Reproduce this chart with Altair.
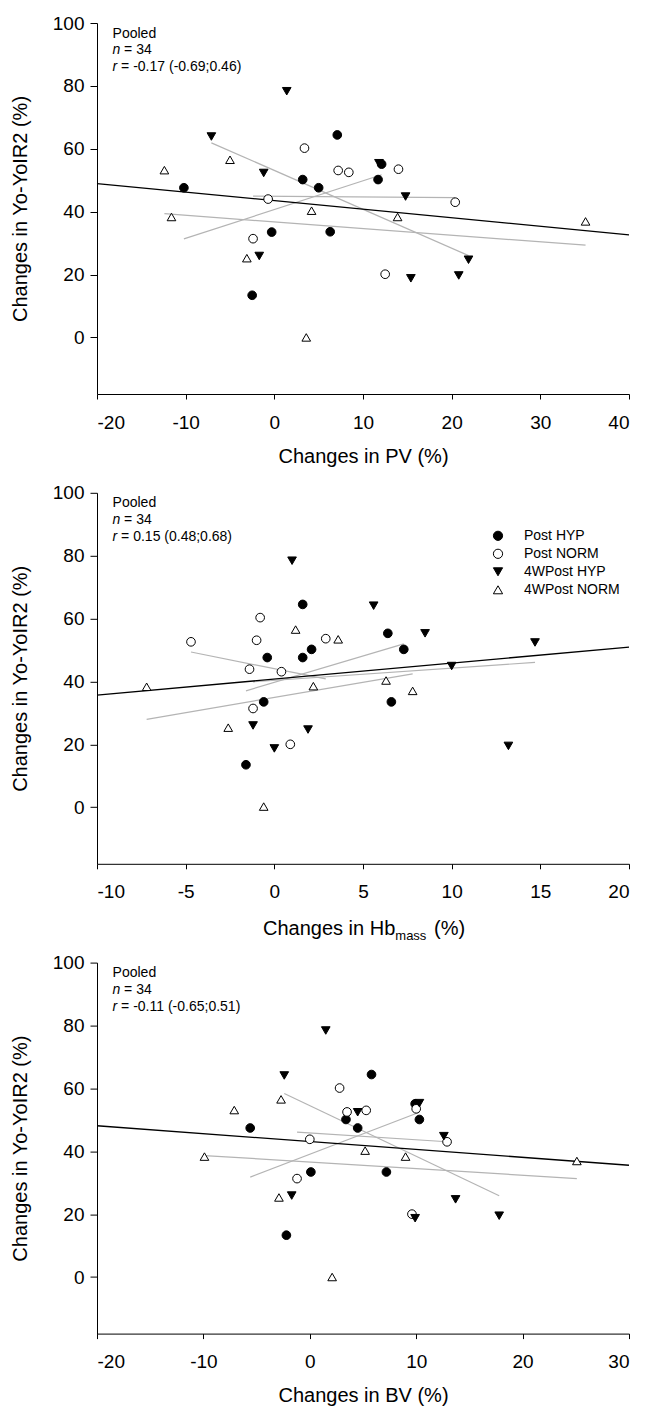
import altair as alt
import pandas as pd

FONT = "Liberation Sans"
GROUPS = ["Post HYP", "Post NORM", "4WPost HYP", "4WPost NORM"]
SHAPES = ["circle", "circle", "triangle-down", "triangle-up"]
FILLS = ["black", "white", "black", "white"]
STROKES = ["black", "black", "black", "black"]

# ---- Panel 1: Changes in PV (%) ----
pv_post_hyp_x = [-10.2, 7.1, 3.2, 5.0, 11.7, -0.3, 6.3, -2.5, 12.1]
pv_post_hyp_y = [47.6, 64.4, 50.2, 47.6, 50.2, 33.5, 33.6, 13.4, 55.1]
pv_post_norm_x = [3.4, 7.2, 8.4, 14.0, -0.7, -2.4, 12.5, 20.4]
pv_post_norm_y = [60.2, 53.1, 52.5, 53.5, 44.0, 31.4, 20.1, 43.0]
pv_4w_hyp_x = [1.4, -7.1, -1.2, -1.7, 11.8, 14.8, 21.9, 15.4, 20.8]
pv_4w_hyp_y = [78.3, 63.9, 52.3, 25.9, 55.4, 44.8, 24.7, 18.8, 19.7]
pv_4w_norm_x = [-12.4, -5.0, -11.6, 4.2, -3.1, 3.6, 13.9, 35.1]
pv_4w_norm_y = [53.2, 56.5, 38.3, 40.3, 25.2, 0.0, 38.3, 36.9]

# ---- Panel 2: Changes in Hb mass (%) ----
hb_post_hyp_x = [1.6, -0.4, 1.6, 2.1, -0.6, -1.6, 6.4, 7.3, 6.6]
hb_post_hyp_y = [64.5, 47.6, 47.6, 50.2, 33.5, 13.5, 55.3, 50.2, 33.5]
hb_post_norm_x = [-4.7, -0.8, -1.0, 2.9, -1.4, 0.4, -1.2, 0.9]
hb_post_norm_y = [52.6, 60.3, 53.1, 53.6, 43.9, 43.1, 31.4, 20.0]
hb_4w_hyp_x = [1.0, 5.6, 8.5, 14.7, 10.0, 13.2, -1.2, 1.9, 0.0]
hb_4w_hyp_y = [78.4, 64.1, 55.3, 52.4, 44.9, 19.5, 26.0, 24.7, 18.7]
hb_4w_norm_x = [-7.2, 1.2, 3.6, 2.2, -2.6, -0.6, 6.3, 7.8]
hb_4w_norm_y = [38.3, 56.5, 53.4, 38.5, 25.3, 0.2, 40.3, 37.0]

# ---- Panel 3: Changes in BV (%) ----
bv_post_hyp_x = [5.8, -5.6, 3.4, 4.5, 0.1, 7.2, -2.2, 9.9, 10.3]
bv_post_hyp_y = [64.4, 47.4, 50.1, 47.4, 33.4, 33.4, 13.3, 55.1, 50.1]
bv_post_norm_x = [2.8, 3.5, 5.3, 0.0, -1.2, 10.0, 12.9, 9.6]
bv_post_norm_y = [60.1, 52.5, 53.0, 43.8, 31.3, 53.5, 43.0, 20.0]
bv_4w_hyp_x = [1.5, -2.4, 4.5, -1.7, 10.3, 12.6, 13.7, 9.9, 17.8]
bv_4w_hyp_y = [78.4, 64.1, 52.4, 25.9, 55.3, 44.8, 24.7, 18.7, 19.5]
bv_4w_norm_x = [-9.9, -7.1, -2.7, 5.2, -2.9, 2.1, 9.0, 25.1]
bv_4w_norm_y = [38.3, 53.1, 56.5, 40.2, 25.3, 0.0, 38.3, 36.9]

# axis settings
pv_domain = [-20, 40]
pv_ticks = [-20, -10, 0, 10, 20, 30, 40]
hb_domain = [-10, 20]
hb_ticks = [-10, -5, 0, 5, 10, 15, 20]
bv_domain = [-20, 30]
bv_ticks = [-20, -10, 0, 10, 20, 30]
y_domain = [-18, 100]
y_ticks = [0, 20, 40, 60, 80, 100]

# annotation texts
r_texts = ["= -0.17 (-0.69;0.46)", "= 0.15 (0.48;0.68)", "= -0.11 (-0.65;0.51)"]
n_text = "= 34"
hb_title_parts = ["Changes in Hb", "mass", "(%)"]

W, H = 532, 371


def panel_df(xs_list, ys_list):
    rows = []
    for g, xs, ys in zip(GROUPS, xs_list, ys_list):
        for x, y in zip(xs, ys):
            rows.append({"x": x, "y": y, "group": g})
    return pd.DataFrame(rows)


def txt(s, x, y, size=14, style="normal"):
    return alt.Chart(pd.DataFrame({"t": [s]})).mark_text(
        align="left", baseline="alphabetic", font=FONT, fontSize=size,
        fontStyle=style, color="black"
    ).encode(text="t:N", x=alt.value(x), y=alt.value(y))


def make_panel(df, xdomain, xticks, xtitle, rtext, legend=False):
    xscale = alt.Scale(domain=xdomain, nice=False, zero=False)
    yscale = alt.Scale(domain=y_domain, nice=False, zero=False)
    xaxis = alt.Axis(values=xticks, title=xtitle, tickSize=5, labelPadding=14,
                     titlePadding=14, labelExpr="toString(datum.value)")
    yaxis = alt.Axis(values=y_ticks, title="Changes in Yo-YoIR2 (%)", tickSize=7,
                     labelPadding=6, titlePadding=22, labelExpr="toString(datum.value)")
    base = alt.Chart(df)
    X = alt.X("x:Q", scale=xscale, axis=xaxis)
    Y = alt.Y("y:Q", scale=yscale, axis=yaxis)
    gray = base.transform_regression("x", "y", groupby=["group"]).mark_line(
        color="#b4b4b4", strokeWidth=1.2
    ).encode(x=X, y=Y, detail="group:N")
    pooled = base.transform_regression("x", "y", extent=xdomain).mark_line(
        color="black", strokeWidth=1.3
    ).encode(x="x:Q", y="y:Q")
    if legend:
        leg = alt.Legend(title=None, orient="none", legendX=394, legendY=36,
                         labelFontSize=14, labelFont=FONT, labelColor="black",
                         symbolSize=85, symbolStrokeWidth=1,
                         labelOffset=19, rowPadding=4, padding=0)
    else:
        leg = None
    pts = base.mark_point(size=75, strokeWidth=1, opacity=1).encode(
        x="x:Q", y="y:Q",
        shape=alt.Shape("group:N", scale=alt.Scale(domain=GROUPS, range=SHAPES), legend=leg),
        fill=alt.Fill("group:N", scale=alt.Scale(domain=GROUPS, range=FILLS), legend=leg),
        stroke=alt.Stroke("group:N", scale=alt.Scale(domain=GROUPS, range=STROKES), legend=leg),
    )
    x0 = 15.6
    layers = [gray, pooled, pts,
              txt("Pooled", x0, 14.5),
              txt("n", x0, 31.2, style="italic"),
              txt(n_text, x0 + 11.5, 31.2),
              txt("r", x0, 47.9, style="italic"),
              txt(rtext, x0 + 8.5, 47.9)]
    return alt.layer(*layers).properties(width=W, height=H)


p1 = make_panel(panel_df([pv_post_hyp_x, pv_post_norm_x, pv_4w_hyp_x, pv_4w_norm_x],
                         [pv_post_hyp_y, pv_post_norm_y, pv_4w_hyp_y, pv_4w_norm_y]),
                pv_domain, pv_ticks, "Changes in PV (%)", r_texts[0])

p2_core = make_panel(panel_df([hb_post_hyp_x, hb_post_norm_x, hb_4w_hyp_x, hb_4w_norm_x],
                              [hb_post_hyp_y, hb_post_norm_y, hb_4w_hyp_y, hb_4w_norm_y]),
                     hb_domain, hb_ticks, None, r_texts[1], legend=True)
p2 = alt.layer(
    p2_core,
    txt(hb_title_parts[0], 166, H + 71, size=20),
    txt(hb_title_parts[1], 298.3, H + 76, size=13),
    txt(hb_title_parts[2], 337, H + 71, size=20),
)

p3 = make_panel(panel_df([bv_post_hyp_x, bv_post_norm_x, bv_4w_hyp_x, bv_4w_norm_x],
                         [bv_post_hyp_y, bv_post_norm_y, bv_4w_hyp_y, bv_4w_norm_y]),
                bv_domain, bv_ticks, "Changes in BV (%)", r_texts[2])

chart = alt.vconcat(p1, p2, p3, spacing=98.8, bounds="flush").resolve_scale(
    x="independent", shape="independent", fill="independent", stroke="independent"
).properties(
    padding={"left": 2, "top": 6, "right": 5, "bottom": 5}
).configure_axis(
    labelFont=FONT, titleFont=FONT, labelColor="black", titleColor="black",
    domainColor="black", tickColor="black", grid=False, titleFontWeight="normal",
    labelFontSize=19, titleFontSize=20, domainWidth=1, tickWidth=1
).configure_view(stroke=None)

chart.save("out.html", embed_options={"renderer": "svg", "actions": False})
